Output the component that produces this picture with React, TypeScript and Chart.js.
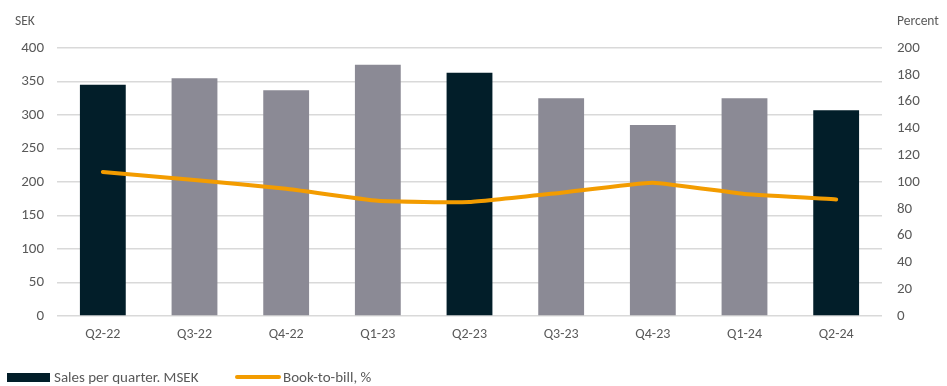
import React, { useEffect, useRef } from "react";
import { Chart, registerables } from "chart.js";

Chart.register(...registerables);

const categories = ["Q2-22", "Q3-22", "Q4-22", "Q1-23", "Q2-23", "Q3-23", "Q4-23", "Q1-24", "Q2-24"];
const salesValues = [345, 355, 337, 375, 363, 325, 285, 325, 307];
const bookToBill = [107.5, 101.5, 95, 86, 85, 92, 99.5, 91, 87];
const leftTicks = [0, 50, 100, 150, 200, 250, 300, 350, 400];
const rightTicks = [0, 20, 40, 60, 80, 100, 120, 140, 160, 180, 200];
const barColors = ["#021e29", "#8b8a95", "#8b8a95", "#8b8a95", "#021e29", "#8b8a95", "#8b8a95", "#8b8a95", "#021e29"];
const salesLabel = "Sales per quarter. MSEK";
const lineLabel = "Book-to-bill, %";
const leftTitle = "SEK";
const rightTitle = "Percent";

const FONT = "Carlito, Lato, 'Liberation Sans', sans-serif";
const TEXT = "#595959";
const SIZE = 15;

export default function App() {
  const ref = useRef<HTMLCanvasElement | null>(null);
  useEffect(() => {
    if (!ref.current) return;
    const extras = {
      id: "extras",
      afterDraw(chart: any) {
        const ctx = chart.ctx;
        const y1 = chart.scales.y1;
        ctx.save();
        ctx.font = `13.5px ${FONT}`;
        ctx.fillStyle = TEXT;
        ctx.textBaseline = "middle";
        ctx.textAlign = "left";
        ctx.fillText(leftTitle, 15, 22);
        ctx.fillText(rightTitle, y1.left + 15, 22);
        // legend
        const ly = 377;
        ctx.font = `${SIZE}px ${FONT}`;
        ctx.fillStyle = "#021e29";
        ctx.fillRect(7, ly - 4, 43, 9);
        ctx.fillStyle = TEXT;
        ctx.fillText(salesLabel, 54, ly + 1);
        ctx.strokeStyle = "#f39c00";
        ctx.lineWidth = 4;
        ctx.lineCap = "round";
        ctx.beginPath();
        ctx.moveTo(237, ly);
        ctx.lineTo(279, ly);
        ctx.stroke();
        ctx.fillText(lineLabel, 283, ly + 1);
        ctx.restore();
      },
    };
    const chart = new Chart(ref.current, {
      type: "bar",
      data: {
        labels: categories,
        datasets: [
          {
            type: "line",
            label: lineLabel,
            data: bookToBill,
            yAxisID: "y1",
            borderColor: "#f39c00",
            backgroundColor: "#f39c00",
            borderWidth: 4,
            pointRadius: 0,
            tension: 0.12,
            borderCapStyle: "round",
            order: 0,
          } as any,
          {
            type: "bar",
            label: salesLabel,
            data: salesValues,
            yAxisID: "y",
            backgroundColor: barColors,
            categoryPercentage: 1,
            barPercentage: 0.5,
            order: 1,
          },
        ],
      },
      options: {
        animation: false,
        responsive: false,
        maintainAspectRatio: false,
        layout: { padding: { top: 48, bottom: 40, left: 0, right: 0 } },
        plugins: { legend: { display: false }, tooltip: { enabled: false } },
        scales: {
          x: {
            grid: { display: false, drawTicks: false },
            border: { display: false },
            ticks: { color: TEXT, font: { family: FONT, size: 14 }, padding: 10 },
            afterFit(s: any) { s.height = 30; },
          },
          y: {
            position: "left",
            min: 0,
            max: 400,
            afterBuildTicks(s: any) { s.ticks = leftTicks.map((v) => ({ value: v })); },
            grid: { color: "#d9d9d9", lineWidth: 1.5, drawTicks: false },
            border: { display: false },
            ticks: { color: TEXT, font: { family: FONT, size: SIZE }, padding: 13 },
            afterFit(s: any) { s.width = 57; },
          },
          y1: {
            position: "right",
            min: 0,
            max: 200,
            afterBuildTicks(s: any) { s.ticks = rightTicks.map((v) => ({ value: v })); },
            grid: { display: false, drawTicks: false },
            border: { display: false },
            ticks: { color: TEXT, font: { family: FONT, size: SIZE }, padding: 15 },
            afterFit(s: any) { s.width = 65; },
          },
        },
      },
      plugins: [extras],
    });
    return () => chart.destroy();
  }, []);
  return (
    <div style={{ position: "fixed", left: 0, top: 0, width: 947, height: 386, background: "#fff" }}>
      <canvas ref={ref} width={947} height={386} style={{ width: 947, height: 386, display: "block" }} />
    </div>
  );
}
